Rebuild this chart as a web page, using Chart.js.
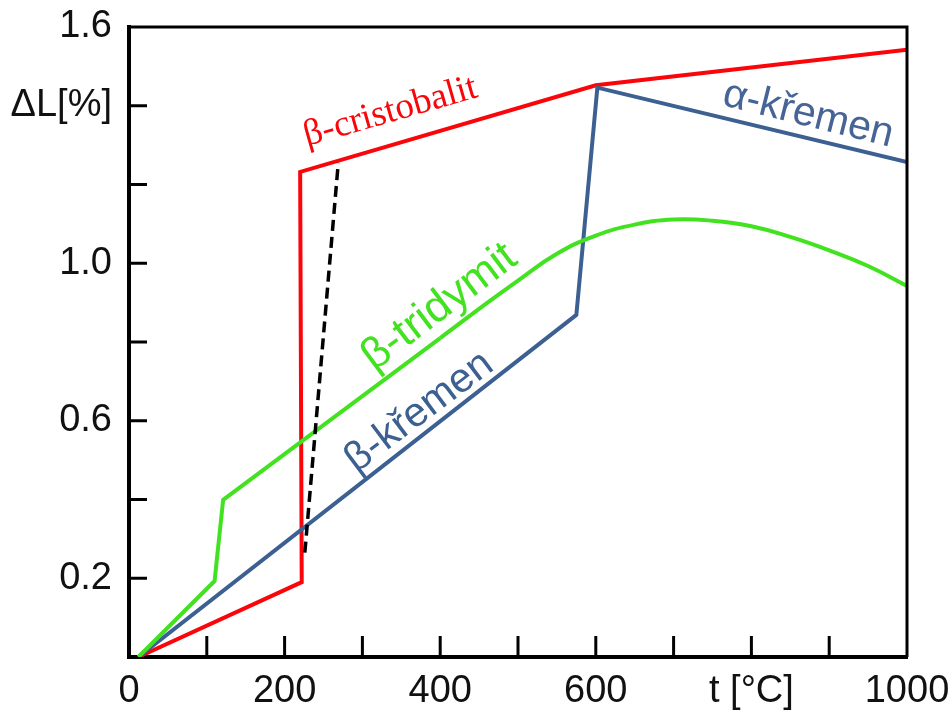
<!DOCTYPE html>
<html>
<head>
<meta charset="utf-8">
<script src="https://cdn.jsdelivr.net/npm/chart.js@4.4.1/dist/chart.umd.min.js"></script>
<style>
  body { margin: 0; background: #fff; }
  canvas { display: block; }
</style>
</head>
<body>
<canvas id="thermal" width="950" height="713"></canvas>
<script>
// temperature [°C] and expansion dL [%]
const cristobalitT = [12, 222, 220, 600, 1000];
const cristobalitDL = [0, 0.19, 1.232, 1.452, 1.542];

const kremenT = [12, 575, 602, 1000];
const kremenDL = [0, 0.869, 1.446, 1.257];

const tridymitT = [12, 110, 121, 400];
const tridymitDL = [0, 0.193, 0.399, 0.81];
const tridymitCurveT = [400, 450, 500, 550, 600, 650, 700, 750, 800, 850, 900, 950, 1000];
const tridymitCurveDL = [0.81, 0.884, 0.956, 1.024, 1.07, 1.098, 1.111, 1.108, 1.094, 1.067, 1.033, 0.993, 0.942];

const dashT = [226, 269];
const dashDL = [0.265, 1.255];

const xTickValues = [0, 200, 400, 600, 800, 1000];
const xTickLabels = ['0', '200', '400', '600', 't [°C]', '1000'];
const yTickValues = [0.2, 0.6, 1.0, 1.4, 1.6];
const yTickLabels = ['0.2', '0.6', '1.0', 'ΔL[%]', '1.6'];

const RED = 'rgb(250, 5, 10)';
const BLUE = 'rgb(60, 96, 146)';
const GREEN = 'rgb(66, 226, 32)';

function pts(xs, ys) {
    return xs.map((x, i) => ({x: x, y: ys[i]}));
}

function findLabel(values, labels, v) {
    for (let i = 0; i < values.length; i++) {
        if (Math.abs(values[i] - v) < 1e-6) return labels[i];
    }
    return '';
}

// captions placed at data coordinates
const captions = [
    {text: 'β-cristobalit', x: 336, y: 1.384, angle: -16, color: RED, font: '37px "Liberation Serif", "Times New Roman", serif'},
    {text: 'α-křemen', x: 873, y: 1.377, angle: 14, color: 'rgb(70, 100, 150)', font: '41px "Liberation Sans", Arial, sans-serif'},
    {text: 'β-tridymit', x: 399, y: 0.888, angle: -37, color: GREEN, font: '44px "Liberation Sans", Arial, sans-serif'},
    {text: 'β-křemen', x: 373, y: 0.622, angle: -37, color: BLUE, font: '41px "Liberation Sans", Arial, sans-serif'}
];

const framePlugin = {
    id: 'frame',
    beforeDraw(chart) {
        const c = chart.ctx;
        c.save();
        c.fillStyle = '#fff';
        c.fillRect(0, 0, chart.width, chart.height);
        c.restore();
    },
    afterDraw(chart) {
        const c = chart.ctx;
        const a = chart.chartArea;
        const xs = chart.scales.x, ys = chart.scales.y;
        c.save();
        c.strokeStyle = '#000';
        c.lineWidth = 3;
        c.beginPath();
        c.moveTo(a.left, a.top);
        c.lineTo(a.right, a.top);
        c.lineTo(a.right, a.bottom);
        c.stroke();
        // inner tick marks
        xs.ticks.forEach(t => {
            if (t.value <= 0 || t.value >= 1000) return;
            const px = xs.getPixelForValue(t.value);
            c.beginPath();
            c.moveTo(px, a.bottom);
            c.lineTo(px, a.bottom - 21);
            c.stroke();
        });
        ys.ticks.forEach(t => {
            if (t.value <= 0 || t.value >= 1.6 - 1e-6) return;
            const py = ys.getPixelForValue(t.value);
            c.beginPath();
            c.moveTo(a.left, py);
            c.lineTo(a.left + 18, py);
            c.stroke();
        });
        // captions
        captions.forEach(cap => {
            c.save();
            c.translate(xs.getPixelForValue(cap.x), ys.getPixelForValue(cap.y));
            c.rotate(cap.angle * Math.PI / 180);
            c.font = cap.font;
            c.fillStyle = cap.color;
            c.textAlign = 'center';
            c.textBaseline = 'middle';
            c.fillText(cap.text, 0, 0);
            c.restore();
        });
        c.restore();
    }
};

const ctx = document.getElementById('thermal').getContext('2d');
const thermal = new Chart(ctx, {
    type: 'line',
    data: {
        datasets: [
            {data: pts(dashT, dashDL), borderColor: '#000', borderWidth: 3.5, borderDash: [11, 6]},
            {data: pts(tridymitT, tridymitDL), borderColor: GREEN, borderWidth: 4},
            {data: pts(tridymitCurveT, tridymitCurveDL), borderColor: GREEN, borderWidth: 4, tension: 0.45},
            {data: pts(kremenT, kremenDL), borderColor: BLUE, borderWidth: 4},
            {data: pts(cristobalitT, cristobalitDL), borderColor: RED, borderWidth: 4}
        ]
    },
    options: {
        responsive: false,
        animation: false,
        devicePixelRatio: 1,
        parsing: false,
        elements: {
            point: {radius: 0},
            line: {tension: 0, borderJoinStyle: 'miter', borderCapStyle: 'butt'}
        },
        layout: {padding: {top: 27, right: 43, left: 0, bottom: 0}},
        plugins: {
            legend: {display: false},
            tooltip: {enabled: false}
        },
        scales: {
            x: {
                type: 'linear',
                min: 0,
                max: 1000,
                grid: {display: false, drawTicks: false},
                border: {display: true, color: '#000', width: 4},
                ticks: {
                    stepSize: 100,
                    autoSkip: false,
                    maxRotation: 0,
                    padding: 12,
                    color: '#111',
                    font: {family: '"Liberation Sans", Arial, sans-serif', size: 38},
                    callback: v => findLabel(xTickValues, xTickLabels, v)
                },
                afterFit: s => {
                    s.height = 56;
                    s.paddingLeft = 0;
                    s.paddingRight = 0;
                }
            },
            y: {
                min: 0,
                max: 1.6,
                grid: {display: false, drawTicks: false},
                border: {display: true, color: '#000', width: 4},
                ticks: {
                    stepSize: 0.2,
                    autoSkip: false,
                    padding: 17,
                    color: '#111',
                    font: {family: '"Liberation Sans", Arial, sans-serif', size: 38},
                    callback: v => findLabel(yTickValues, yTickLabels, v)
                },
                afterFit: s => {
                    s.width = 129;
                    s.paddingTop = 0;
                    s.paddingBottom = 0;
                }
            }
        }
    },
    plugins: [framePlugin]
});
</script>
</body>
</html>
